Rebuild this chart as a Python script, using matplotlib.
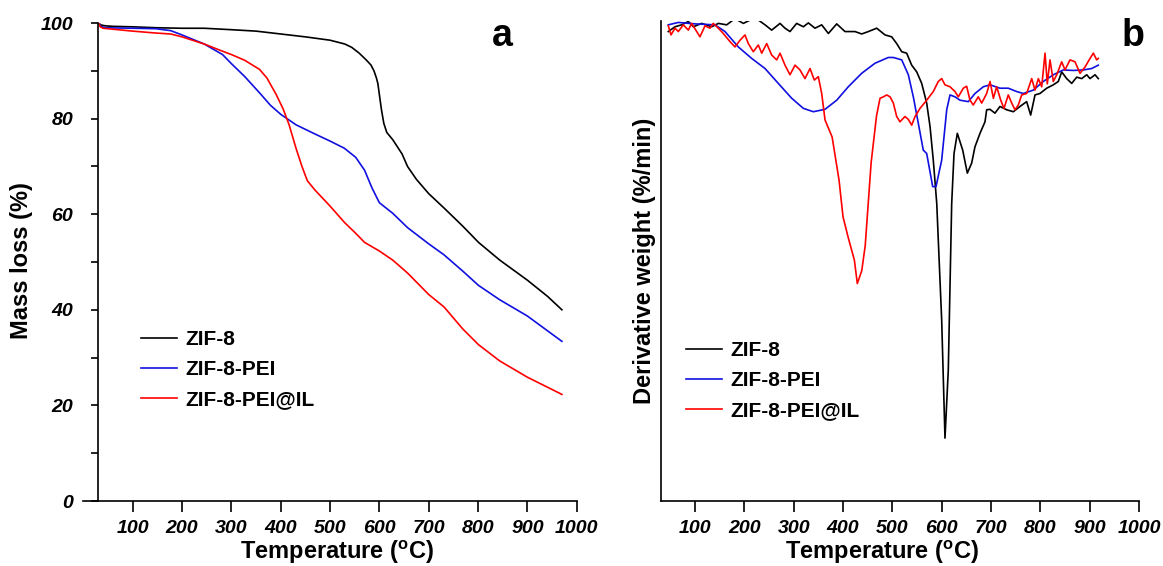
import matplotlib
matplotlib.use("Agg")
import matplotlib.pyplot as plt
from matplotlib.ticker import MultipleLocator

plt.rcParams['font.family'] = ['Liberation Sans', 'DejaVu Sans']
plt.rcParams['mathtext.fontset'] = 'custom'
plt.rcParams['mathtext.bf'] = 'Liberation Sans:bold'
plt.rcParams['mathtext.rm'] = 'Liberation Sans'

# ---------------- Panel a: TGA ----------------
a_zif8_T = [31, 35, 45, 60, 100, 150, 200, 245, 300, 350, 400, 450, 500, 530, 544, 559, 574, 583,
            589, 594, 597, 600, 604, 609, 615, 627, 646, 657, 675, 700, 731, 769, 801, 844, 900, 941, 970]
a_zif8_M = [100, 99.6, 99.4, 99.3, 99.2, 99.0, 98.9, 98.9, 98.6, 98.3, 97.7, 97.1, 96.4, 95.6, 94.9, 93.7,
            92.2, 91.2, 90, 88.5, 87.3, 85, 82, 79, 77.1, 75.6, 72.6, 70, 67.3, 64.3, 61.3, 57.5, 54.1,
            50.4, 46.2, 42.8, 40]

a_pei_T = [31, 35, 45, 100, 147, 177, 200, 245, 282, 300, 327, 357, 379, 400, 431, 469, 500, 529, 552,
           570, 585, 600, 627, 657, 700, 731, 769, 801, 844, 900, 970]
a_pei_M = [100, 99.3, 99, 98.9, 98.8, 98.4, 97.5, 95.6, 93.4, 91.5, 88.8, 85.4, 82.8, 80.9, 78.7, 76.8,
           75.3, 73.8, 71.9, 69.2, 65.5, 62.4, 60.2, 57.2, 53.8, 51.5, 48.1, 45.1, 42.1, 38.7, 33.4]

a_il_T = [31, 34, 40, 100, 147, 177, 200, 245, 282, 300, 327, 357, 372, 391, 405, 417, 431, 443, 454,
          469, 500, 529, 552, 570, 600, 627, 657, 700, 731, 769, 801, 844, 900, 970]
a_il_M = [100, 99.2, 98.9, 98.3, 97.9, 97.7, 97.1, 95.6, 94.1, 93.4, 92.2, 90.3, 88.5, 85, 82, 78.7,
          73.8, 70, 67, 65.1, 61.7, 58.3, 56, 54.1, 52.3, 50.4, 47.7, 43.2, 40.6, 36, 32.7, 29.3, 25.9, 22.3]

# ---------------- Panel b: DTG (relative units) ----------------
b_zif8_T = [45.8, 59.4, 72.9, 86.4, 96.5, 113.5, 133.8, 147.3, 164.2, 181, 197.9, 221.6, 241.9, 255.4,
            272.3, 282.4, 292.5, 306, 319.6, 329.7, 343.2, 356.8, 370.3, 387.2, 404, 424.3, 437.8, 451.3,
            468.3, 485.1, 498.7, 508.8, 519, 529, 539.2, 549.4, 559.5, 569.6, 576.4, 583, 590, 600, 606.7,
            613.4, 620.3, 625, 631.7, 642.6, 652, 660.8, 667.5, 677.7, 687.8, 691.2, 697.9, 708, 718.2,
            731.8, 745.2, 758.8, 772.3, 780.4, 789.2, 799.3, 812.9, 826.3, 836.4, 843.3, 853.4, 863.6,
            873.7, 883.9, 894, 900.7, 910.9, 917.5]
b_zif8_V = [97.8, 98.8, 99.2, 99.9, 98.8, 99.5, 98.8, 99.5, 99.2, 100.5, 99.5, 100.7, 99.2, 98.1,
            99.5, 98.5, 97.8, 99.5, 98.8, 99.6, 98.5, 99.2, 97.4, 99.4, 97.8, 97.8, 97.3, 97.8,
            98.5, 97.1, 96.7, 95.3, 93.6, 93.3, 90.8, 89.4, 87, 82.9, 78, 71, 62, 37.7, 13.1,
            27.3, 62, 72.4, 76.6, 73.1, 68.3, 70.4, 73.8, 76.6, 79, 81.5, 81.6, 80.8, 82.2,
            81.5, 81.1, 82.2, 83.2, 80.4, 84.6, 84.9, 86, 86.7, 87.4, 89.4, 88, 87,
            88.3, 88, 88.8, 88, 88.8, 88]

b_pei_T = [45.8, 66.1, 100, 140.5, 160.8, 187.7, 214.9, 241.9, 268.8, 296, 319.6, 339.8, 363.5, 387.2,
           410.7, 437.8, 464.8, 491.8, 502, 519, 532.4, 542.5, 552.6, 562.7, 569.6, 581.8, 588.5, 600,
           610.2, 616.9, 627, 637.2, 654, 667.6, 684.4, 698, 718.2, 735, 752, 765.5, 785.7, 806, 826.3,
           846.6, 866.8, 887.1, 904, 917.5]
b_pei_V = [99.2, 99.7, 99.4, 99.2, 97.8, 94.6, 92.2, 90.1, 87, 83.9, 81.8, 81.1, 81.6, 83.5,
           86.3, 89.1, 91.2, 92.4, 92.4, 91.9, 88.8, 84.2, 78.7, 73.1, 72.4, 65.5, 65.5, 71,
           81.5, 84.6, 84.2, 83.5, 83.2, 84.9, 86.3, 86.7, 86, 86, 85.3, 84.9, 85.6, 87.4, 88.8,
           89.8, 89.7, 89.8, 90.1, 90.8]

b_il_T = [45.8, 51.3, 59.4, 66.1, 76.2, 86.4, 93.2, 103.4, 110, 120.2, 130.3, 137, 147.3, 157.3, 170.9,
          181, 191.2, 201.3, 208, 218.1, 228.3, 235.2, 245.3, 255.4, 265.6, 272.3, 282.4, 292.5, 302.7,
          312.8, 322.9, 333.1, 341.8, 349.9, 356.8, 363.5, 378, 385, 392, 400, 411, 423, 429, 438, 445,
          457, 468, 475, 481.7, 488.6, 495.4, 502, 508.8, 515.5, 525.6, 532.4, 539.2, 546, 556.1,
          569.6, 583, 593.1, 600, 606.7, 616.9, 627, 633.7, 643.8, 650.6, 657.4, 664, 674.2, 681.1,
          691.2, 698, 704.8, 711.5, 719.7, 726.3, 735, 742, 748.6, 755.3, 762.2, 772.3, 782.5, 789.2,
          795.9, 802.8, 809.5, 814.1, 819.6, 826.3, 833.2, 843.3, 850, 860.1, 870.3, 880.4, 890.5,
          900.7, 907.5, 914.2, 917.5]
b_il_V = [99, 97.1, 98.5, 97.8, 99.2, 98.1, 99.5, 97.8, 96.7, 99, 98.5, 99.5, 98.5, 97.4, 95.7,
          94.6, 96, 97.1, 95.3, 93.6, 95, 93.3, 95.3, 92.9, 91.9, 93.3, 90.8, 88.8, 90.8,
          89.8, 88, 90.1, 87.7, 88.4, 84.9, 79.4, 75.8, 71.3, 66.8, 59.2, 54.7, 50.2, 45.3, 48, 53.2,
          70.5, 80.3, 83.9, 84.2, 84.6, 84.2, 82.9, 80.1, 79, 80.1, 79.5, 78.3, 80.1, 81.8,
          83.5, 85.3, 87.4, 88, 86.7, 86.3, 85.3, 84.2, 86, 86.4, 83.5, 82.5, 84.2, 82.9,
          84.9, 87.4, 83.9, 86.3, 83.5, 81.8, 84.6, 82.9, 81.5, 82.5, 84.6, 84.9, 88, 85.6,
          88, 86.3, 93.3, 86.9, 91.9, 87.4, 88.8, 91.5, 89.8, 91.9, 91.5, 89.1, 90.4,
          92.2, 93.3, 91.9, 92.2]

labels = ['ZIF-8', 'ZIF-8-PEI', 'ZIF-8-PEI@IL']
colors = ['black', '#1010e0', '#ff0000']
x_ticks = [100, 200, 300, 400, 500, 600, 700, 800, 900, 1000]
y_ticks_a = [0, 20, 40, 60, 80, 100]

W, H = 1163, 566
fig = plt.figure(figsize=(W / 100, H / 100), dpi=100)

def px_rect(x0, x1, y_top, y_bot):
    return [x0 / W, 1 - y_bot / H, (x1 - x0) / W, (y_bot - y_top) / H]

tick_font = dict(fontsize=14, fontweight='bold', fontstyle='italic')
lab_font = dict(fontsize=17, fontweight='bold')
lw = 1.2
xlab_text = 'Temperature ($^{\\mathbf{o}}$C)'

# Panel a
axa = fig.add_axes(px_rect(83.4, 576.7, 23, 501))
for T, M, c, l in zip([a_zif8_T, a_pei_T, a_il_T], [a_zif8_M, a_pei_M, a_il_M], colors, labels):
    axa.plot(T, M, color=c, lw=lw, label=l)
axa.set_xlim(0, 1000)
axa.set_ylim(0, 100)
axa.spines['top'].set_visible(False)
axa.spines['right'].set_visible(False)
axa.spines['left'].set_position(('data', 30))
axa.spines['left'].set_bounds(0, 100)
for s in ['left', 'bottom']:
    axa.spines[s].set_linewidth(1.2)
axa.set_xticks(x_ticks)
axa.set_xticklabels([str(v) for v in x_ticks], **tick_font)
axa.set_yticks(y_ticks_a)
axa.set_yticklabels([str(v) for v in y_ticks_a], **tick_font)
axa.yaxis.set_minor_locator(MultipleLocator(10))
axa.tick_params(axis='x', direction='out', length=8, width=1.2, pad=6)
axa.tick_params(axis='y', which='both', direction='out', length=5, width=1.2, pad=13)
axa.set_xlabel(xlab_text, **lab_font)
axa.xaxis.set_label_coords(337 / W, 1 - 552 / H, transform=fig.transFigure)
axa.set_ylabel('Mass loss (%)', **lab_font)
axa.yaxis.set_label_coords(22 / W, 1 - 261 / H, transform=fig.transFigure)
fig.text(502 / W, 1 - 36 / H, 'a', fontsize=27, fontweight='bold', ha='center', va='center')
axa.legend(loc='upper left', bbox_to_anchor=(141 / W, 1 - 330 / H), bbox_transform=fig.transFigure,
           frameon=False, prop=dict(size=15, weight='bold'), handlelength=1.73, handletextpad=0.38,
           labelspacing=0.54, borderpad=0, borderaxespad=0)

# Panel b
axb = fig.add_axes(px_rect(660.5, 1139, 21, 501))
for T, V, c, l in zip([b_zif8_T, b_pei_T, b_il_T], [b_zif8_V, b_pei_V, b_il_V], colors, labels):
    axb.plot(T, V, color=c, lw=lw, label=l)
axb.set_xlim(30, 1000)
axb.set_ylim(0, 100)
axb.spines['top'].set_visible(False)
axb.spines['right'].set_visible(False)
for s in ['left', 'bottom']:
    axb.spines[s].set_linewidth(1.2)
axb.set_xticks(x_ticks)
axb.set_xticklabels([str(v) for v in x_ticks], **tick_font)
axb.set_yticks([])
axb.tick_params(axis='x', direction='out', length=8, width=1.2, pad=6)
axb.set_xlabel(xlab_text, **lab_font)
axb.xaxis.set_label_coords(882 / W, 1 - 552 / H, transform=fig.transFigure)
axb.set_ylabel('Derivative weight (%/min)', **lab_font)
axb.yaxis.set_label_coords(645 / W, 1 - 261 / H, transform=fig.transFigure)
fig.text(1133 / W, 1 - 36 / H, 'b', fontsize=27, fontweight='bold', ha='center', va='center')
axb.legend(loc='upper left', bbox_to_anchor=(686 / W, 1 - 341 / H), bbox_transform=fig.transFigure,
           frameon=False, prop=dict(size=15, weight='bold'), handlelength=1.73, handletextpad=0.38,
           labelspacing=0.54, borderpad=0, borderaxespad=0)

for ax in (axa, axb):
    ax.xaxis.label.set_va('center')
    ax.yaxis.label.set_va('center')

fig.savefig('out.png', dpi=100)
